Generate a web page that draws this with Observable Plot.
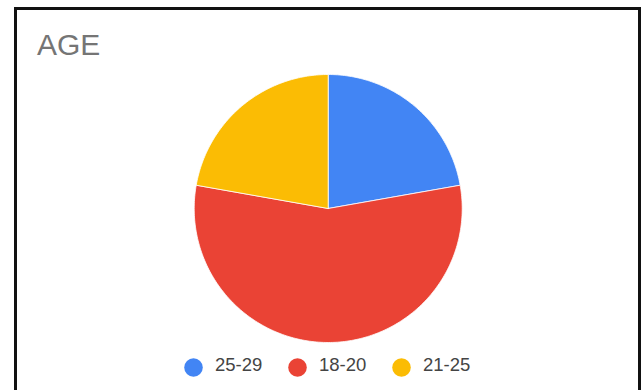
<!DOCTYPE html>
<html>
<head>
<meta charset="utf-8">
<script src="https://cdn.jsdelivr.net/npm/d3@7"></script>
<script src="https://cdn.jsdelivr.net/npm/@observablehq/plot@0.6"></script>
<style>
  html, body { margin: 0; padding: 0; background: #fff; overflow: hidden; width: 642px; height: 390px; }
  #frame { position: absolute; left: 14px; top: 7px; width: 627px; height: 400px; box-sizing: border-box;
           border: 3px solid #111; border-bottom: none; }
  #title { position: absolute; left: 37px; top: 29.5px; font: 30px "Liberation Sans", Arial, sans-serif;
           line-height: 30px; color: #757575; white-space: nowrap; }
  #pie { position: absolute; left: 0; top: 0; }
  #legend { position: absolute; left: 0; top: 347px; }
</style>
</head>
<body>
<div id="frame"></div>
<div id="title">AGE</div>
<div id="pie"></div>
<div id="legend"></div>
<script>
const categories = ["25-29", "18-20", "21-25"];
const counts = [2, 5, 2];
const colors = ["#4285F4", "#EA4335", "#FBBC04"];

const colorScale = {domain: categories, range: colors};

// Build slice outlines from the data with d3.pie (clockwise from 12 o'clock)
const arcs = d3.pie().sort(null).value(d => d)(counts);
const slicePoints = arcs.flatMap((a, i) => {
  const cat = categories[i];
  const n = Math.max(2, Math.ceil((a.endAngle - a.startAngle) / (Math.PI / 180)));
  const pts = [{cat, x: 0, y: 0}];
  for (let k = 0; k <= n; k++) {
    const t = a.startAngle + (a.endAngle - a.startAngle) * k / n;
    pts.push({cat, x: Math.sin(t), y: Math.cos(t)});
  }
  pts.push({cat, x: 0, y: 0});
  return pts;
});

const cx = 327.7, cy = 208, r = 134;
const pie = Plot.plot({
  width: 642,
  height: 350,
  margin: 0,
  style: {background: "transparent", overflow: "visible"},
  x: {domain: [-1, 1], range: [cx - r, cx + r], axis: null},
  y: {domain: [-1, 1], range: [cy + r, cy - r], axis: null},
  color: colorScale,
  marks: [
    Plot.line(slicePoints, {x: "x", y: "y", z: "cat", fill: "cat", stroke: "white", strokeWidth: 0.8, curve: "linear"})
  ]
});
document.getElementById("pie").appendChild(pie);

const legend = Plot.plot({
  width: 642,
  height: 40,
  margin: 0,
  style: {background: "transparent", overflow: "visible"},
  x: {type: "point", domain: categories, range: [192.3, 400.7], padding: 0, align: 0.5, axis: null},
  y: {axis: null},
  color: colorScale,
  marks: [
    Plot.dot(categories, {x: d => d, frameAnchor: "middle", r: 9.3, fill: d => d}),
    Plot.text(categories, {x: d => d, text: d => d, frameAnchor: "middle", dx: 21.5, dy: -2.8, textAnchor: "start",
      fontSize: 18.5, fontFamily: "Liberation Sans, Arial, sans-serif", fill: "#444"})
  ]
});
document.getElementById("legend").appendChild(legend);
</script>
</body>
</html>
